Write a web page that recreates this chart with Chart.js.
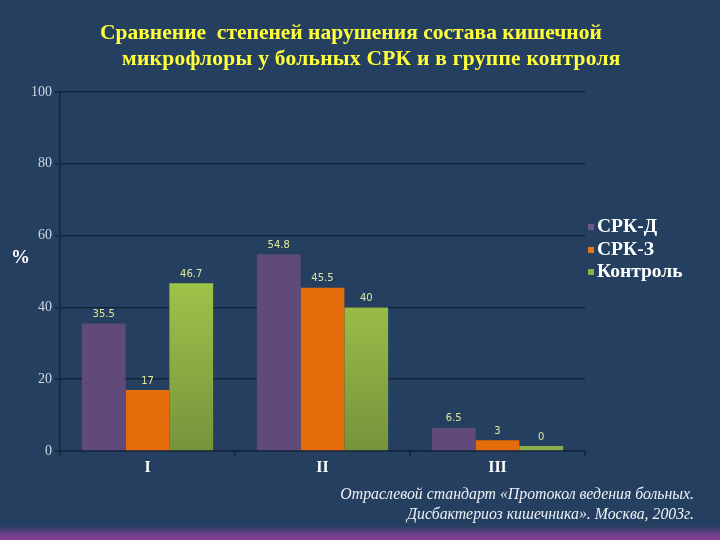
<!DOCTYPE html>
<html><head><meta charset="utf-8">
<script src="https://cdn.jsdelivr.net/npm/chart.js@4/dist/chart.umd.min.js"></script>
<style>
html,body{margin:0;padding:0;}
body{width:720px;height:540px;background:#243f60;position:relative;overflow:hidden;font-family:"Liberation Serif",serif;}
#strip{position:absolute;left:0;top:526px;width:720px;height:14px;background:linear-gradient(#243f60,#6a3f88 55%,#8a3f92);}
#c{position:absolute;left:0;top:0;}
.t{position:absolute;color:#ffff3a;font-weight:bold;font-size:21.5px;white-space:nowrap;}
#pct{position:absolute;left:11px;top:246px;color:#fff;font-weight:bold;font-size:19px;}
.fn{position:absolute;right:26px;color:#eef2f7;font-style:italic;font-size:15.8px;white-space:nowrap;}
</style></head>
<body>
<div id="strip"></div>
<canvas id="c" width="720" height="540"></canvas>
<div class="t" style="left:100px;top:20px;">Сравнение&nbsp; степеней нарушения состава кишечной</div>
<div class="t" style="left:122px;top:46px;letter-spacing:0.25px;">микрофлоры у больных СРК и в группе контроля</div>
<div id="pct">%</div>
<div class="fn" style="top:485px;">Отраслевой стандарт «Протокол ведения больных.</div>
<div class="fn" style="top:505px;">Дисбактериоз кишечника». Москва, 2003г.</div>
<script>
const categories = ["I", "II", "III"];
const seriesNames = ["СРК-Д", "СРК-З", "Контроль"];
const srkD = [35.5, 54.8, 6.5];
const srkZ = [17, 45.5, 3];
const control = [46.7, 40, 0];
const yTicks = [0, 20, 40, 60, 80, 100];

const purple = "#5f4a7b", orange = "#e46c0a";
function greenGrad(ctx){
  const ch = ctx.chart, a = ch.chartArea;
  if(!a) return "#93b545";
  if(ctx.raw === 0) return "#8aad4a";
  const g = ch.ctx.createLinearGradient(0, a.top + (a.bottom-a.top)*0.5, 0, a.bottom);
  g.addColorStop(0, "#a2c64a");
  g.addColorStop(1, "#76933c");
  return g;
}

const labelPlugin = {
  id: "vals",
  afterDatasetsDraw(chart){
    const c = chart.ctx;
    c.save();
    c.font = "10px 'DejaVu Sans', sans-serif";
    c.fillStyle = "#dfe79a";
    c.textAlign = "center";
    c.textBaseline = "bottom";
    chart.data.datasets.forEach((ds, i) => {
      chart.getDatasetMeta(i).data.forEach((bar, j) => {
        c.fillText(String(ds.data[j]), bar.x, Math.min(bar.y, bar.base) - 4);
      });
    });
    c.restore();
  }
};
const legendPlugin = {
  id: "customLegend",
  afterDraw(chart){
    const c = chart.ctx;
    c.save();
    c.font = "bold 19.5px 'Liberation Serif', serif";
    c.textBaseline = "middle";
    const ys = [227, 250, 272];
    chart.data.datasets.forEach((ds, i) => {
      c.fillStyle = ds.legendColor;
      c.fillRect(588, ys[i]-3, 6, 6);
      c.fillStyle = "#ffffff";
      c.fillText(ds.label, 597, ys[i]);
    });
    c.restore();
  }
};

new Chart(document.getElementById("c"), {
  type: "bar",
  data: {
    labels: categories,
    datasets: [
      {label: seriesNames[0], data: srkD, backgroundColor: purple, legendColor: "#6a5a8c"},
      {label: seriesNames[1], data: srkZ, backgroundColor: orange, legendColor: "#e8761a"},
      {label: seriesNames[2], data: control, backgroundColor: greenGrad, legendColor: "#8db04a", minBarLength: 5}
    ]
  },
  options: {
    responsive: false,
    animation: false,
    events: [],
    layout: {padding: {left: 0, top: 92, right: 135, bottom: 59}},
    datasets: {bar: {categoryPercentage: 0.75, barPercentage: 1.0, borderWidth: 0}},
    plugins: {legend: {display: false}, tooltip: {enabled: false}, title: {display: false}},
    scales: {
      x: {
        grid: {display: true, drawOnChartArea: false, color: "#14243a", tickLength: 5, lineWidth: 1.5},
        border: {display: true, color: "#14243a", width: 1.5},
        ticks: {color: "#ffffff", font: {family: "'Liberation Serif', serif", size: 16, weight: "bold"}, padding: 2},
        afterFit(s){ s.height = 30; }
      },
      y: {
        min: 0, max: 100,
        afterBuildTicks(s){ s.ticks = yTicks.map(v => ({value: v})); },
        grid: {color: "#14243a", lineWidth: 1.5, tickLength: 5},
        border: {display: true, color: "#14243a", width: 1.5},
        ticks: {color: "#cfd7e2", font: {family: "'Liberation Serif', serif", size: 14}, padding: 3},
        afterFit(s){ s.width = 60; }
      }
    }
  },
  plugins: [labelPlugin, legendPlugin]
});
</script>
</body></html>
